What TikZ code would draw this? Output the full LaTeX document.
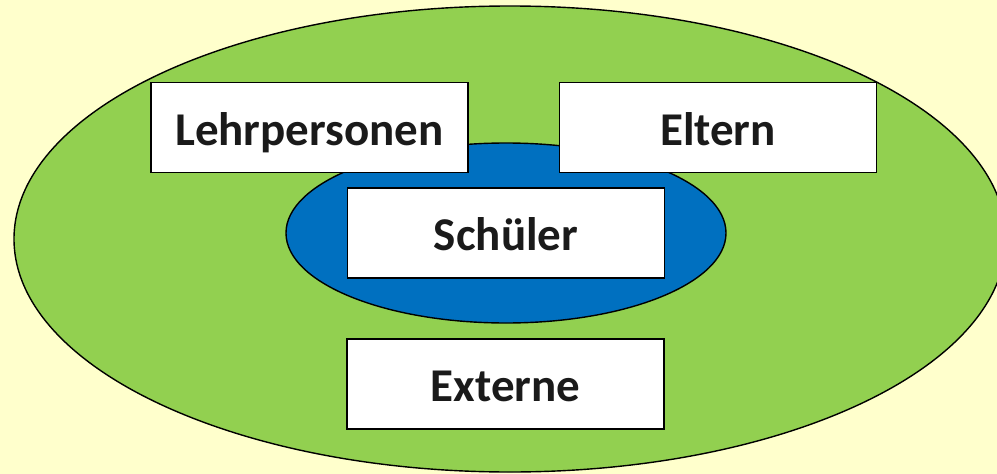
\documentclass[tikz,border=0pt]{standalone}
\usepackage{fontspec}
\setmainfont{Carlito}
\usepackage{tikz}
\usetikzlibrary{positioning}

\definecolor{bgyellow}{HTML}{FFFFCC}
\definecolor{ringgreen}{HTML}{92D050}
\definecolor{coreblue}{HTML}{0070C0}
\definecolor{labelgray}{HTML}{1A1A1A}

\begin{document}
\begin{tikzpicture}[
x=1pt,y=-1pt,
ring/.style={
  fill=ringgreen,
  draw=black,
  line width=1.4pt
  },
core/.style={
  fill=coreblue,
  draw=black,
  line width=1.4pt
  },
group/.style={
  draw=black,
  fill=white,
  line width=1.8pt,
  minimum width=317pt,
  minimum height=90pt,
  inner sep=0pt,
  text height=35pt,
  text depth=0pt,
  text=labelgray,
  font=\fontsize{47}{52}\selectfont\bfseries
  }
]
\fill[bgyellow] (0,0) rectangle (997,474);
\useasboundingbox (0,0) rectangle (997,474);

% outer and inner circle
\filldraw[ring] (510,239) ellipse [x radius=496, y radius=233];
\filldraw[core] (506,233) ellipse [x radius=220, y radius=90];

\node[group] (teachers) at (309.5,127.5) {Lehrpersonen};
\node[group] (parents) at (718,127.5) {Eltern};
\node[group] (pupils) at (506,233) {Schüler};
\node[group] (external) at (505.5,384) {Externe};
\end{tikzpicture}
\end{document}
